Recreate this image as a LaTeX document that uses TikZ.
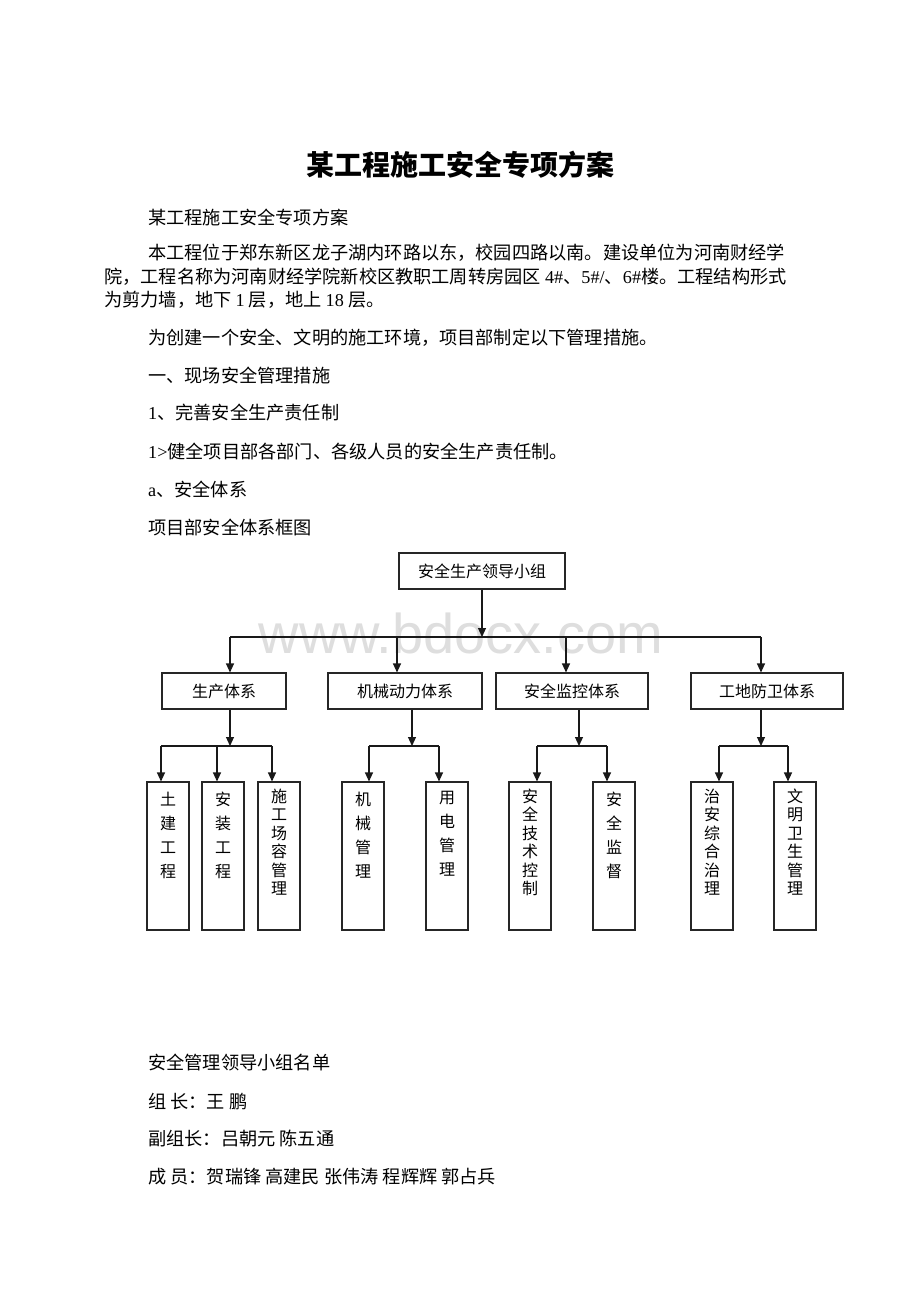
\documentclass[tikz,border=0pt]{standalone}
\usepackage{fontspec}
\setmainfont{Liberation Serif}
\newfontfamily\cjk{Noto Sans CJK SC}
\newfontfamily\wmfont{Liberation Sans}
\usetikzlibrary{arrows.meta}
\begin{document}
\begin{tikzpicture}[x=1pt,y=-1pt,
  box/.style={draw=black!85, line width=1.1pt, inner sep=0pt, font=\cjk\fontsize{16}{16}\selectfont},
  arr/.style={draw=black!90, line width=1.1pt, -{Triangle[length=9pt,width=8pt]}},
  ln/.style={draw=black!90, line width=1.1pt},
  body/.style={anchor=west, inner sep=0pt, font=\cjk\fontsize{18.2}{22}\selectfont},
  vfour/.style={anchor=north, inner sep=0pt, align=center, font=\cjk\fontsize{16}{24}\selectfont},
  vsix/.style={anchor=north, inner sep=0pt, align=center, font=\cjk\fontsize{16}{18.5}\selectfont}]
\useasboundingbox (0,0) rectangle (920,1302);
\fill[white] (0,0) rectangle (920,1302);

% title and text
\node[inner sep=0pt, font=\cjk\bfseries\fontsize{28}{28}\selectfont] (title) at (460,165) {某工程施工安全专项方案};
\node[body] (l1) at (148,217) {某工程施工安全专项方案};
\node[body] (p1) at (148,253) {本工程位于郑东新区龙子湖内环路以东，校园四路以南。建设单位为河南财经学};
\node[body] (p2) at (104,277) {院，工程名称为河南财经学院新校区教职工周转房园区 {\rmfamily 4\#}、{\rmfamily 5\#/}、{\rmfamily 6\#}楼。工程结构形式};
\node[body] (p3) at (104,300) {为剪力墙，地下 {\rmfamily 1} 层，地上 {\rmfamily 18} 层。};
\node[body] (l2) at (148,338) {为创建一个安全、文明的施工环境，项目部制定以下管理措施。};
\node[body] (l3) at (148,376) {一、现场安全管理措施};
\node[body] (l4) at (148,413) {{\rmfamily 1}、完善安全生产责任制};
\node[body] (l5) at (148,452) {{\rmfamily 1>}健全项目部各部门、各级人员的安全生产责任制。};
\node[body] (l6) at (148,489) {{\rmfamily a}、安全体系};
\node[body] (l7) at (148,527) {项目部安全体系框图};
\node[body] (n1) at (148,1063) {安全管理领导小组名单};
\node[body] (n2) at (148,1102) {组 长：王 鹏};
\node[body] (n3) at (148,1139) {副组长：吕朝元 陈五通};
\node[body] (n4) at (148,1177) {成 员：贺瑞锋 高建民 张伟涛 程辉辉 郭占兵};

% watermark
\node[anchor=base, inner sep=0pt, text=black!13, font=\wmfont\fontsize{56}{56}\selectfont] (wm) at (461,653) {www.bdocx.com};

% level 1
\node[box, minimum width=166pt, minimum height=36pt] (top) at (482,571) {安全生产领导小组};
% level 2
\node[box, minimum width=124pt, minimum height=36pt] (p) at (224,691) {生产体系};
\node[box, minimum width=154pt, minimum height=36pt] (m) at (405,691) {机械动力体系};
\node[box, minimum width=152pt, minimum height=36pt] (s) at (572,691) {安全监控体系};
\node[box, minimum width=152pt, minimum height=36pt] (g) at (767,691) {工地防卫体系};
% level 3 boxes
\foreach \n/\x in {a1/168,a2/223,a3/279,b1/363,b2/447,c1/530,c2/614,d1/712,d2/795}
  \node[box, minimum width=42pt, minimum height=148pt] (\n) at (\x,856) {};
\node[vfour] (ta1) at ([yshift=-10pt]a1.north) {土\\建\\工\\程};
\node[vfour] (ta2) at ([yshift=-10pt]a2.north) {安\\装\\工\\程};
\node[vsix]  (ta3) at ([yshift=-7pt]a3.north) {施\\工\\场\\容\\管\\理};
\node[vfour] (tb1) at ([yshift=-10pt]b1.north) {机\\械\\管\\理};
\node[vfour] (tb2) at ([yshift=-10pt]b2.north) {用\\电\\管\\理};
\node[vsix]  (tc1) at ([yshift=-7pt]c1.north) {安\\全\\技\\术\\控\\制};
\node[vfour] (tc2) at ([yshift=-10pt]c2.north) {安\\全\\监\\督};
\node[vsix]  (td1) at ([yshift=-7pt]d1.north) {治\\安\\综\\合\\治\\理};
\node[vsix]  (td2) at ([yshift=-7pt]d2.north) {文\\明\\卫\\生\\管\\理};

% main bus
\coordinate (busL) at (230,637);
\coordinate (busT) at (482,637);
\coordinate (bm) at (397,637);
\coordinate (bs) at (566,637);
\coordinate (busR) at (761,637);
\draw[ln] (busL) -- (busR);
\draw[arr] (top.south) -- (busT);
\draw[arr] (busL) -- (busL |- p.north);
\draw[arr] (bm) -- (bm |- m.north);
\draw[arr] (bs) -- (bs |- s.north);
\draw[arr] (busR) -- (busR |- g.north);

% sub buses
\coordinate (pj) at (230,746);
\coordinate (pa) at (161,746);
\coordinate (pb) at (217,746);
\coordinate (pc) at (272,746);
\draw[arr] (pj |- p.south) -- (pj);
\draw[ln] (pa) -- (pc);
\draw[arr] (pa) -- (pa |- a1.north);
\draw[arr] (pb) -- (pb |- a2.north);
\draw[arr] (pc) -- (pc |- a3.north);

\coordinate (mj) at (412,746);
\coordinate (ma) at (369,746);
\coordinate (mb) at (439,746);
\draw[arr] (mj |- m.south) -- (mj);
\draw[ln] (ma) -- (mb);
\draw[arr] (ma) -- (ma |- b1.north);
\draw[arr] (mb) -- (mb |- b2.north);

\coordinate (sj) at (579,746);
\coordinate (sa) at (537,746);
\coordinate (sb) at (607,746);
\draw[arr] (sj |- s.south) -- (sj);
\draw[ln] (sa) -- (sb);
\draw[arr] (sa) -- (sa |- c1.north);
\draw[arr] (sb) -- (sb |- c2.north);

\coordinate (gj) at (761,746);
\coordinate (ga) at (719,746);
\coordinate (gb) at (788,746);
\draw[arr] (gj |- g.south) -- (gj);
\draw[ln] (ga) -- (gb);
\draw[arr] (ga) -- (ga |- d1.north);
\draw[arr] (gb) -- (gb |- d2.north);
\end{tikzpicture}
\end{document}
